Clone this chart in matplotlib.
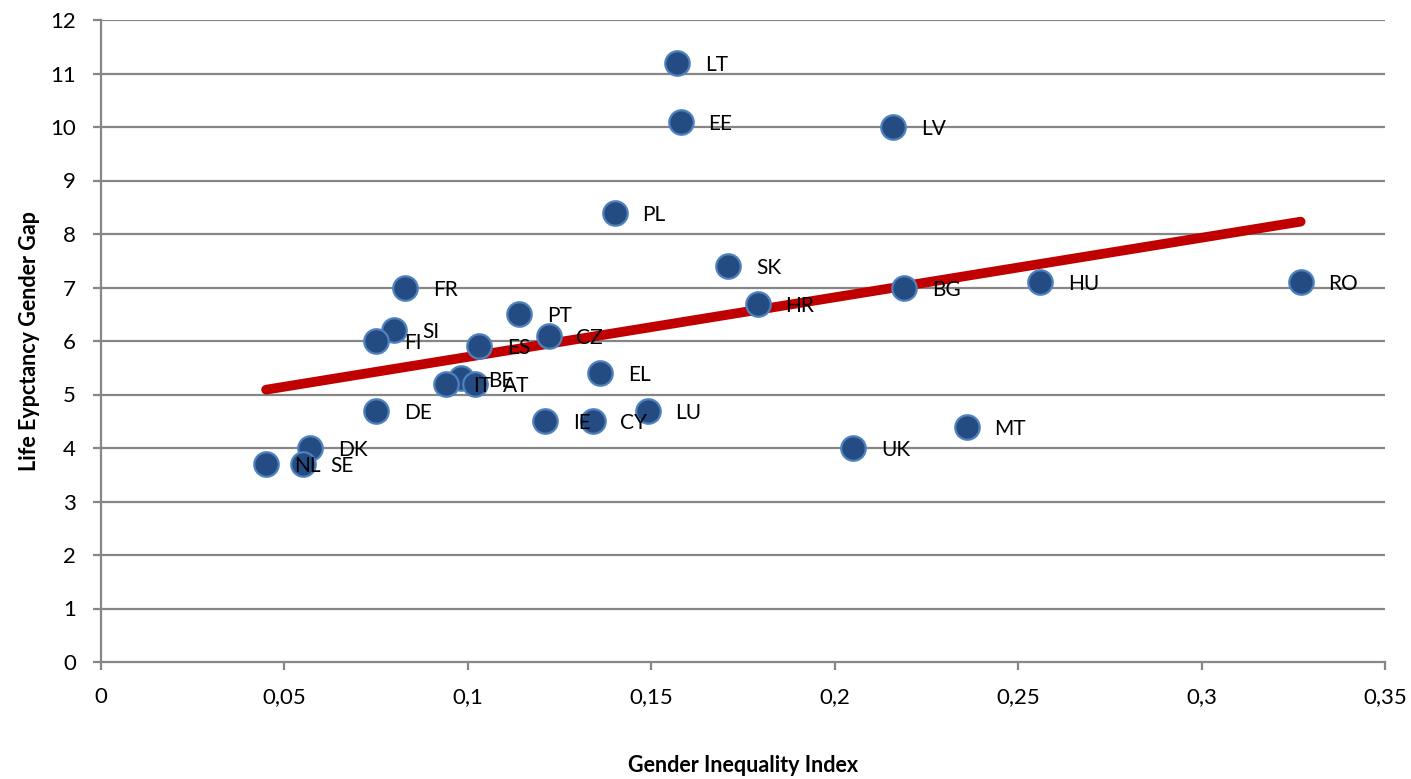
import matplotlib.pyplot as plt
import numpy as np

# country codes with gender inequality index and life expectancy gap (years)
countries = ['LT', 'EE', 'LV', 'PL', 'SK', 'HR', 'BG', 'HU', 'RO', 'FR',
             'PT', 'CZ', 'SI', 'FI', 'ES', 'EL', 'BE', 'IT', 'AT', 'DE',
             'IE', 'CY', 'LU', 'UK', 'MT', 'DK', 'NL', 'SE']
gii = [0.157, 0.158, 0.216, 0.140, 0.171, 0.179, 0.219, 0.256, 0.327, 0.083,
       0.114, 0.122, 0.080, 0.075, 0.103, 0.136, 0.098, 0.094, 0.102, 0.075,
       0.121, 0.134, 0.149, 0.205, 0.236, 0.057, 0.045, 0.055]
gap = [11.2, 10.1, 10.0, 8.4, 7.4, 6.7, 7.0, 7.1, 7.1, 7.0,
       6.5, 6.1, 6.2, 6.0, 5.9, 5.4, 5.3, 5.2, 5.2, 4.7,
       4.5, 4.5, 4.7, 4.0, 4.4, 4.0, 3.7, 3.7]

xticks = [0, 0.05, 0.1, 0.15, 0.2, 0.25, 0.3, 0.35]
xtick_labels = ['0', '0,05', '0,1', '0,15', '0,2', '0,25', '0,3', '0,35']
yticks = list(range(0, 13))

plt.rcParams['font.family'] = ['Lato', 'DejaVu Sans']

fig = plt.figure(figsize=(14.11, 7.79), dpi=100)
ax = fig.add_axes([101 / 1411, 1 - 662 / 779, 1284 / 1411, 642 / 779])

grid_col = '#868686'
for y in yticks[1:]:
    ax.axhline(y, color=grid_col, lw=1.6, zorder=1)

# linear trend over all countries
k, b = np.polyfit(gii, gap, 1)
xs = np.array([min(gii), max(gii)])
ax.plot(xs, k * xs + b, color='#C00000', lw=7, solid_capstyle='round', zorder=3)

ax.scatter(gii, gap, s=310, color='#244C82', edgecolors='#4F81BD', linewidths=1.6, zorder=4)
for c, x, y in zip(countries, gii, gap):
    ax.annotate(c, (x, y), xytext=(20, -1.5), textcoords='offset points',
                va='center', ha='left', fontsize=15, zorder=5)

ax.set_xlim(0, 0.35)
ax.set_ylim(0, 12)
ax.set_xticks(xticks)
ax.set_xticklabels(xtick_labels)
ax.set_yticks(yticks)
ax.tick_params(axis='both', direction='out', length=6, width=1.6, color=grid_col,
               labelsize=16, pad=12)

for side in ['top', 'right']:
    ax.spines[side].set_visible(False)
for side in ['left', 'bottom']:
    ax.spines[side].set_color(grid_col)
    ax.spines[side].set_linewidth(1.6)

ax.set_xlabel('Gender Inequality Index', fontsize=15.5, fontweight='bold', va='center')
ax.xaxis.set_label_coords(0.5, -103 / 642)
ax.set_ylabel('Life Eypctancy Gender Gap', fontsize=15.5, fontweight='bold', va='center')
ax.yaxis.set_label_coords(-71 / 1284, 0.5)

fig.savefig('out.png', dpi=100)
